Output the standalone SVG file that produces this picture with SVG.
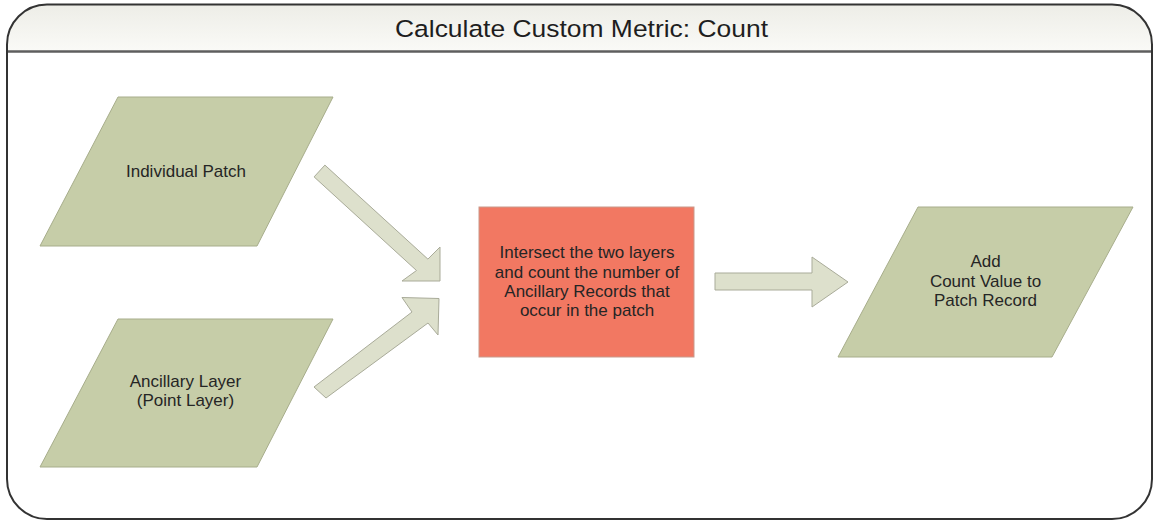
<svg xmlns="http://www.w3.org/2000/svg" width="1153" height="520" viewBox="0 0 1153 520">
  <defs>
    <linearGradient id="hdr" x1="0" y1="0" x2="0" y2="1">
      <stop offset="0" stop-color="#ededE7"/>
      <stop offset="1" stop-color="#fafaf7"/>
    </linearGradient>
  </defs>
  <style>
    .para { fill: #c6cda8; stroke: #a7ad8b; stroke-width: 1; }
    .proc { fill: #f27862; stroke: #c99a8c; stroke-width: 1; }
    .arrow { fill: #dde0cc; stroke: #a9ab99; stroke-width: 1; }
    .lbl { font-family: "Liberation Sans", Arial, sans-serif; font-size: 17px; fill: #252525; text-anchor: middle; }
    .title { font-family: "Liberation Sans", Arial, sans-serif; font-size: 24.5px; fill: #1e1e1e; text-anchor: middle; }
  </style>
  <rect x="0" y="0" width="1153" height="520" fill="#ffffff"/>
  <g id="frame">
    <path d="M7,51.5 V44.5 A40,40 0 0 1 47,4.5 H1112 A40,40 0 0 1 1152,44.5 V51.5 Z" fill="url(#hdr)"/>
    <line x1="7" y1="51.5" x2="1152" y2="51.5" stroke="#5e5e5e" stroke-width="2.5"/>
    <rect x="7" y="4.5" width="1145" height="514.5" rx="40" ry="40" fill="none" stroke="#333333" stroke-width="2"/>
    <text class="title" x="581.5" y="37" textLength="373" lengthAdjust="spacingAndGlyphs">Calculate Custom Metric: Count</text>
  </g>
  <g id="connectors">
    <polygon class="arrow" points="324.9,165.1 427.9,259.1 440,247 440,281 402,281 416.5,270.5 314.1,176.9"/>
    <polygon class="arrow" points="314,387 412,312 402,297.5 439,298.5 438,335 428,323 326,398"/>
    <polygon class="arrow" points="715,273 812,273 812,257 848,282 812,307 812,290 715,290"/>
  </g>
  <g id="individual-patch">
    <polygon class="para" points="118,97 333,97 257,246 40,246"/>
    <text class="lbl" x="186" y="177">Individual Patch</text>
  </g>
  <g id="ancillary-layer">
    <polygon class="para" points="118,319 333,319 257,467 40,467"/>
    <text class="lbl" x="185.5" y="387">Ancillary Layer</text>
    <text class="lbl" x="185.5" y="405.5">(Point Layer)</text>
  </g>
  <g id="intersect">
    <rect class="proc" x="479" y="207" width="215" height="150"/>
    <text class="lbl" x="587" y="258">Intersect the two layers</text>
    <text class="lbl" x="587" y="277.5">and count the number of</text>
    <text class="lbl" x="587" y="297">Ancillary Records that</text>
    <text class="lbl" x="587" y="316">occur in the patch</text>
  </g>
  <g id="add-count">
    <polygon class="para" points="918,207 1133,207 1052,357 838,357"/>
    <text class="lbl" x="985.5" y="267">Add</text>
    <text class="lbl" x="985.5" y="286.5">Count Value to</text>
    <text class="lbl" x="985.5" y="306">Patch Record</text>
  </g>
</svg>
